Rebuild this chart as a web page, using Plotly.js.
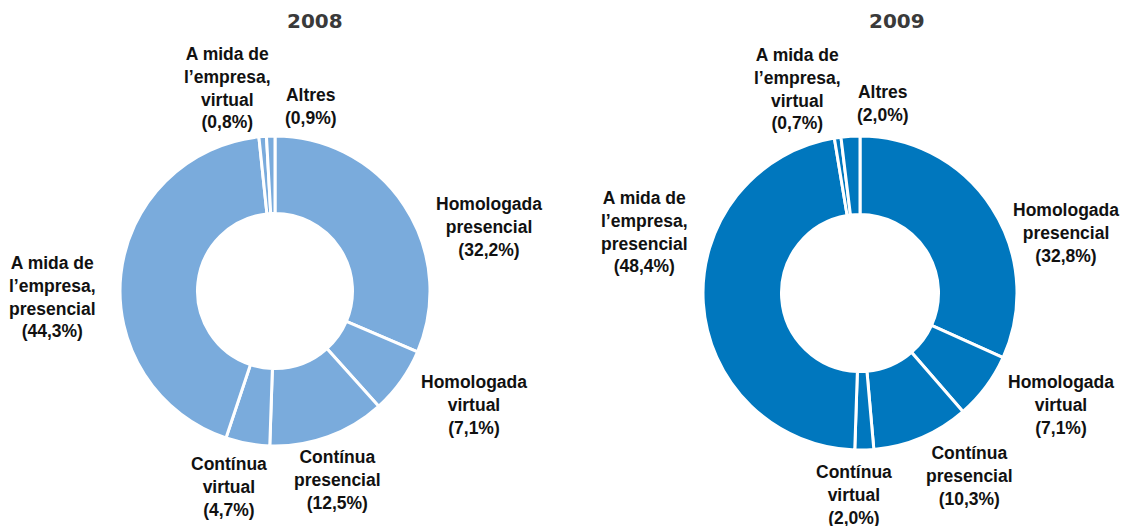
<!DOCTYPE html>
<html>
<head>
<meta charset="utf-8">
<script src="https://cdn.plot.ly/plotly-3.0.1.min.js"></script>
<style>
  html, body { margin:0; padding:0; background:#fff; }
  #chart { width:1122px; height:526px; }
</style>
</head>
<body>
<div id="chart"></div>
<script>
/* two donuts: training type shares, 2008 vs 2009 */

const categories = [
  'Homologada<br>presencial',
  'Homologada<br>virtual',
  'Contínua<br>presencial',
  'Contínua<br>virtual',
  'A mida de<br>l’empresa,<br>presencial',
  'A mida de<br>l’empresa,<br>virtual',
  'Altres'
];
const years = ['2008', '2009'];
const values2008 = [32.2, 7.1, 12.5, 4.7, 44.3, 0.8, 0.9];
const values2009 = [32.8, 7.1, 10.3, 2.0, 48.4, 0.7, 2.0];

const W = 1122, H = 526;
const FILL = { '2008':'#7aabdc', '2009':'#0077be' };

// donut placement in px: centre x, centre y, radius
const DONUT = { '2008':[275, 291, 155], '2009':[860, 293, 157] };
// label centres in px, same order as categories
const LABEL_POS = {
  '2008': [[489,227],[474,405],[337,480],[229,487],[53,297],[227,88],[311,106]],
  '2009': [[1066,233],[1061,405],[969,476],[854,495],[644,232],[797,89],[883,103]]
};
const TITLE_POS = { '2008':[315,21], '2009':[897,21] };

const fmt = v => v.toFixed(1).replace('.', ',') + '%';

function donut(year, vals) {
  const [cx, cy, r] = DONUT[year];
  return {
    type:'pie', values:vals, labels:categories, sort:false,
    direction:'clockwise', rotation:0, hole:0.5,
    textinfo:'none', hoverinfo:'label+value',
    marker:{ colors:vals.map(() => FILL[year]), line:{ color:'#ffffff', width:3 } },
    domain:{ x:[(cx - r) / W, (cx + r) / W], y:[(H - cy - r) / H, (H - cy + r) / H] },
    showlegend:false
  };
}

const dataByYear = { '2008':values2008, '2009':values2009 };
const annotations = [];
years.forEach(y => {
  categories.forEach((c, i) => {
    const [px, py] = LABEL_POS[y][i];
    annotations.push({
      xref:'paper', yref:'paper', x:px / W, y:1 - py / H,
      xanchor:'center', yanchor:'middle', showarrow:false, align:'center',
      text:'<b>' + c + '<br>(' + fmt(dataByYear[y][i]) + ')</b>',
      font:{ family:'Arial', size:17.5, color:'#111' }
    });
  });
  const [tx, ty] = TITLE_POS[y];
  annotations.push({
    xref:'paper', yref:'paper', x:tx / W, y:1 - ty / H,
    xanchor:'center', yanchor:'middle', showarrow:false, text:'<b>' + y + '</b>',
    font:{ family:'DejaVu Sans', size:20, color:'#3a3a3a' }
  });
});

Plotly.newPlot('chart', years.map(y => donut(y, dataByYear[y])), {
  width:W, height:H, paper_bgcolor:'#fff', plot_bgcolor:'#fff',
  margin:{ l:0, r:0, t:0, b:0 },
  annotations
}, { displayModeBar:false, staticPlot:true });
</script>
</body>
</html>
